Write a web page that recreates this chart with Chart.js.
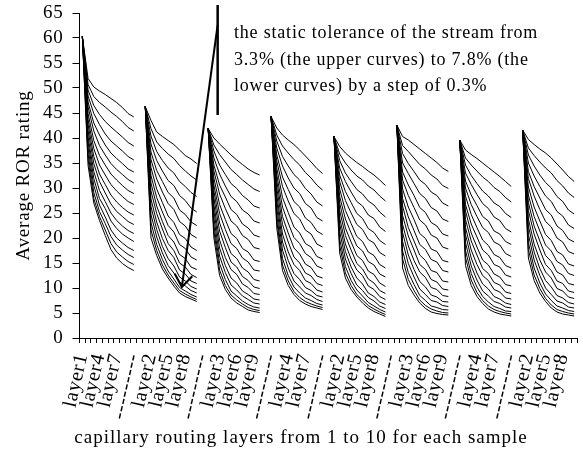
<!DOCTYPE html>
<html><head><meta charset="utf-8">
<script src="https://cdn.jsdelivr.net/npm/chart.js@4/dist/chart.umd.min.js"></script>
<style>html,body{margin:0;padding:0;background:#fff;}#wrap{width:583px;height:451px;}</style>
</head><body><div id="wrap"><canvas id="c" width="583" height="451"></canvas></div>
<script>
// ---- data ----
const layerNames = ["layer1","layer2","layer3","layer4","layer5","layer6","layer7","layer8","layer9","layer10"];
const sampleCount = 8;
// labels shown under every third category, as in the reference
const tickLabels = ["layer1","layer4","layer7","---------","layer2","layer5","layer8","---------",
  "layer3","layer6","layer9","---------","layer4","layer7","---------","layer2","layer5","layer8","---------",
  "layer3","layer6","layer9","---------","layer4","layer7","---------","layer2","layer5","layer8"];
const yTicks = [0,5,10,15,20,25,30,35,40,45,50,55,60,65];
const seriesNames = ["3.3%","3.6%","3.9%","4.2%","4.5%","4.8%","5.1%","5.4%","5.7%","6.0%","6.3%","6.6%","6.9%","7.2%","7.5%","7.8%"];

const tol3_3 = [[60.3,51.9,50.2,49.4,48.7,47.9,47.1,46.1,44.9,44.2],[46.3,43.5,41.2,40.3,39.5,38.7,37.6,36.5,35.8,34.9],[41.9,40.0,38.8,37.7,36.6,35.6,34.7,33.8,33.1,32.6],[44.3,42.0,40.6,39.6,38.7,37.6,36.4,35.2,33.9,32.9],[40.3,38.3,37.0,36.0,35.1,34.3,33.4,32.6,31.6,30.5],[42.6,40.3,39.6,38.7,37.8,36.9,36.0,35.1,34.0,33.3],[39.6,37.6,36.7,35.9,35.0,34.1,33.2,32.3,31.3,30.3],[41.6,39.7,38.7,37.8,37.0,36.0,34.8,33.6,32.3,31.3]];
const tol3_6 = [[60.3,50.7,48.3,47.1,46.2,45.2,44.3,43.3,42.1,41.4],[46.3,41.9,39.2,37.9,36.8,35.9,34.5,33.4,32.4,31.6],[41.9,38.6,36.7,35.2,33.7,32.7,31.6,30.7,29.8,29.3],[44.3,40.6,38.4,37.0,35.7,34.6,33.1,32.0,30.6,29.6],[40.3,36.8,35.0,33.6,32.4,31.6,30.4,29.6,28.4,27.4],[42.6,38.5,37.3,36.0,34.7,33.8,32.6,31.8,30.5,29.9],[39.6,36.0,34.6,33.4,32.2,31.3,30.1,29.3,28.1,27.2],[41.6,38.0,36.5,35.2,34.0,33.0,31.5,30.4,29.0,28.1]];
const tol3_9 = [[60.3,49.6,46.5,44.7,43.3,42.2,41.2,40.2,39.1,38.4],[46.3,40.4,37.3,35.5,34.0,33.0,31.3,30.3,29.1,28.3],[41.9,37.4,34.6,32.7,30.9,29.9,28.5,27.6,26.4,26.0],[44.3,39.4,36.3,34.4,32.7,31.6,29.9,28.8,27.2,26.4],[40.3,35.5,33.0,31.3,29.7,28.8,27.4,26.6,25.2,24.2],[42.6,36.9,34.9,33.3,31.6,30.7,29.2,28.5,27.0,26.4],[39.6,34.6,32.5,30.9,29.4,28.4,27.0,26.3,24.9,24.1],[41.6,36.6,34.4,32.6,31.1,30.0,28.3,27.3,25.6,24.8]];
const tol4_2 = [[60.3,48.4,44.9,42.7,40.8,39.4,38.4,37.4,36.3,35.6],[46.3,38.8,35.5,33.4,31.5,30.5,28.5,27.5,26.0,25.2],[41.9,36.0,32.8,30.4,28.3,27.3,25.6,24.8,23.4,23.0],[44.3,38.0,34.4,32.0,30.0,28.9,26.9,26.0,24.1,23.4],[40.3,34.0,31.3,29.2,27.3,26.4,24.6,23.9,22.2,21.3],[42.6,35.0,32.9,30.9,28.9,27.9,26.1,25.4,23.8,23.3],[39.6,33.0,30.7,28.7,26.9,25.9,24.2,23.5,21.9,21.2],[41.6,35.0,32.4,30.3,28.4,27.3,25.3,24.4,22.6,21.9]];
const tol4_5 = [[60.3,47.2,43.0,40.6,38.6,37.0,35.9,34.9,33.8,33.2],[46.3,37.2,33.5,31.3,29.1,28.0,25.6,24.7,23.2,22.5],[41.9,34.6,30.6,28.2,25.7,24.7,22.8,22.0,20.6,20.2],[44.3,36.6,32.2,29.7,27.3,26.2,24.0,23.1,21.4,20.7],[40.3,32.6,29.3,27.1,24.9,23.9,21.9,21.1,19.5,18.7],[42.6,33.2,30.6,28.5,26.1,25.1,23.1,22.4,20.8,20.4],[39.6,31.4,28.6,26.5,24.3,23.4,21.4,20.8,19.3,18.7],[41.6,33.3,30.3,28.0,25.7,24.6,22.4,21.5,19.8,19.2]];
const tol4_8 = [[60.3,46.2,41.4,38.5,36.6,34.9,33.7,32.7,31.7,31.0],[46.3,35.7,31.8,29.2,26.9,25.7,23.3,22.4,20.7,20.0],[41.9,33.4,28.8,25.9,23.4,22.4,20.5,19.7,18.1,17.8],[44.3,35.4,30.3,27.4,24.9,23.8,21.6,20.8,18.8,18.2],[40.3,31.3,27.5,25.0,22.7,21.7,19.7,19.0,17.1,16.4],[42.6,31.6,28.5,26.1,23.6,22.6,20.6,20.0,18.2,17.8],[39.6,30.0,26.7,24.3,22.1,21.1,19.2,18.6,16.9,16.3],[41.6,31.9,28.4,25.7,23.3,22.2,20.0,19.2,17.3,16.8]];
const tol5_1 = [[60.3,44.9,39.5,36.5,34.6,32.8,31.6,30.5,29.5,28.9],[46.3,34.1,29.8,27.1,24.4,23.1,20.7,19.9,18.2,17.5],[41.9,32.0,26.7,23.7,20.9,19.9,17.9,17.2,15.6,15.3],[44.3,34.0,28.1,25.1,22.2,21.0,18.9,18.2,16.3,15.8],[40.3,29.8,25.5,22.9,20.3,19.3,17.2,16.5,14.7,14.0],[42.6,29.8,26.2,23.7,20.9,19.9,17.8,17.3,15.5,15.2],[39.6,28.4,24.7,22.1,19.6,18.5,16.7,16.1,14.5,14.0],[41.6,30.2,26.2,23.4,20.7,19.5,17.3,16.6,14.8,14.4]];
const tol5_4 = [[60.3,43.7,37.9,34.6,32.6,30.7,29.4,28.3,27.3,26.7],[46.3,32.5,28.1,25.2,22.5,21.2,18.7,17.9,16.2,15.6],[41.9,30.6,24.9,21.7,18.9,17.9,16.0,15.2,13.6,13.4],[44.3,32.6,26.2,23.0,20.1,18.9,16.9,16.1,14.4,13.9],[40.3,28.3,23.8,21.0,18.4,17.4,15.3,14.6,12.8,12.2],[42.6,27.9,24.2,21.5,18.7,17.7,15.7,15.2,13.5,13.2],[39.6,26.7,22.8,20.2,17.6,16.6,14.7,14.2,12.6,12.2],[41.6,28.6,24.3,21.4,18.6,17.4,15.3,14.6,12.9,12.5]];
const tol5_7 = [[60.3,42.7,36.3,32.8,30.7,28.6,27.2,26.1,25.2,24.6],[46.3,31.0,26.4,23.3,20.5,19.2,16.7,15.9,14.2,13.7],[41.9,29.4,23.0,19.8,16.9,15.9,14.0,13.2,11.7,11.4],[44.3,31.4,24.3,21.0,18.0,16.8,14.8,14.1,12.4,12.0],[40.3,27.0,22.0,19.2,16.5,15.5,13.4,12.7,11.0,10.3],[42.6,26.4,22.1,19.4,16.6,15.5,13.5,13.1,11.4,11.2],[39.6,25.4,21.0,18.2,15.6,14.6,12.8,12.2,10.7,10.4],[41.6,27.1,22.4,19.4,16.5,15.3,13.2,12.6,10.9,10.6]];
const tol6_0 = [[60.3,41.5,34.9,31.3,29.0,26.8,25.3,24.3,23.3,22.7],[46.3,29.4,24.9,21.8,18.9,17.5,15.0,14.2,12.7,12.1],[41.9,28.0,21.4,18.1,15.2,14.2,12.3,11.5,10.2,9.9],[44.3,30.0,22.7,19.2,16.2,15.0,13.0,12.4,10.9,10.5],[40.3,25.5,20.5,17.6,14.9,13.8,11.8,11.0,9.5,8.9],[42.6,24.5,20.4,17.6,14.7,13.7,11.7,11.2,9.8,9.6],[39.6,23.7,19.4,16.6,13.9,12.9,11.1,10.6,9.2,8.9],[41.6,25.5,20.8,17.6,14.7,13.5,11.4,10.9,9.4,9.1]];
const tol6_3 = [[60.3,40.2,33.3,29.5,27.3,25.0,23.5,22.4,21.5,20.9],[46.3,27.8,23.2,19.9,17.5,16.1,13.6,12.8,11.4,10.9],[41.9,26.6,19.6,16.1,13.7,12.7,10.8,10.1,8.9,8.7],[44.3,28.6,20.8,17.2,14.7,13.5,11.5,10.9,9.6,9.2],[40.3,24.0,18.8,15.8,13.6,12.5,10.4,9.7,8.3,7.7],[42.6,22.7,18.4,15.5,13.2,12.1,10.1,9.7,8.5,8.3],[39.6,22.1,17.6,14.7,12.5,11.5,9.7,9.2,8.0,7.8],[41.6,23.8,18.8,15.6,13.2,12.0,9.9,9.4,8.2,7.9]];
const tol6_6 = [[60.3,39.2,31.9,27.9,25.9,23.4,21.9,20.8,20.0,19.3],[46.3,26.3,21.7,18.3,15.9,14.4,12.2,11.4,10.3,9.8],[41.9,25.4,18.0,14.5,12.0,11.0,9.4,8.7,7.8,7.6],[44.3,27.4,19.2,15.5,12.9,11.7,10.1,9.5,8.5,8.2],[40.3,22.8,17.3,14.2,12.0,10.8,9.0,8.3,7.2,6.7],[42.6,21.1,16.6,13.7,11.3,10.2,8.6,8.2,7.3,7.2],[39.6,20.7,16.0,13.0,10.8,9.8,8.3,7.8,7.0,6.7],[41.6,22.4,17.2,13.9,11.5,10.2,8.5,8.0,7.1,6.8]];
const tol6_9 = [[60.3,38.0,30.5,26.6,24.2,21.6,20.0,19.0,18.1,17.5],[46.3,24.7,20.2,17.0,14.5,13.0,11.2,10.4,9.5,9.0],[41.9,24.0,16.4,13.1,10.6,9.6,8.4,7.7,7.0,6.8],[44.3,26.0,17.6,14.0,11.4,10.2,9.0,8.5,7.7,7.3],[40.3,21.3,15.8,12.9,10.6,9.5,8.1,7.4,6.4,5.9],[42.6,19.3,14.9,12.2,9.8,8.7,7.5,7.2,6.5,6.3],[39.6,19.1,14.4,11.6,9.4,8.4,7.3,6.9,6.2,6.0],[41.6,20.7,15.6,12.5,10.0,8.7,7.4,7.0,6.2,6.0]];
const tol7_2 = [[60.3,36.8,29.1,25.3,22.9,20.3,18.6,17.6,16.7,16.1],[46.3,23.1,18.7,15.7,13.4,11.8,10.1,9.4,8.7,8.2],[41.9,22.6,14.9,11.7,9.4,8.4,7.4,6.7,6.2,6.0],[44.3,24.6,15.9,12.5,10.2,9.0,8.0,7.5,6.9,6.6],[40.3,19.8,14.3,11.5,9.6,8.4,7.1,6.4,5.7,5.2],[42.6,17.4,13.1,10.7,8.5,7.5,6.4,6.1,5.7,5.6],[39.6,17.5,12.9,10.2,8.3,7.2,6.3,5.9,5.4,5.3],[41.6,19.1,14.0,11.0,8.8,7.5,6.4,6.0,5.5,5.3]];
const tol7_5 = [[60.3,35.7,27.9,24.3,21.6,18.9,17.2,16.2,15.3,14.7],[46.3,21.6,17.5,14.6,12.6,11.0,9.5,8.8,8.2,7.7],[41.9,21.4,13.6,10.5,8.6,7.6,6.8,6.1,5.7,5.5],[44.3,23.4,14.6,11.4,9.3,8.1,7.3,6.8,6.4,6.1],[40.3,18.5,13.0,10.5,8.7,7.6,6.5,5.8,5.2,4.7],[42.6,15.8,11.7,9.5,7.6,6.5,5.8,5.4,5.1,5.0],[39.6,16.1,11.6,9.1,7.5,6.4,5.7,5.3,5.0,4.8],[41.6,17.7,12.6,9.9,7.9,6.6,5.7,5.3,5.0,4.8]];
const tol7_8 = [[60.3,34.5,27.0,23.5,20.5,17.7,16.0,14.9,14.1,13.5],[46.3,20.0,16.5,13.8,12.0,10.4,9.0,8.3,7.8,7.3],[41.9,20.0,12.5,9.7,8.0,7.0,6.3,5.6,5.3,5.1],[44.3,22.0,13.5,10.5,8.7,7.5,6.8,6.3,6.0,5.7],[40.3,17.0,12.0,9.7,8.2,7.0,6.0,5.3,4.8,4.3],[42.6,14.0,10.5,8.6,7.0,5.9,5.2,4.9,4.7,4.6],[39.6,14.5,10.5,8.3,6.9,5.8,5.2,4.8,4.6,4.4],[41.6,16.0,11.5,9.0,7.3,6.0,5.2,4.8,4.6,4.4]];

const noteLines = ["the static tolerance of the stream from","3.3% (the upper curves) to 7.8% (the","lower curves) by a step of 0.3%"];
const xTitle = "capillary routing layers from 1 to 10 for each sample";
const yTitle = "Average ROR rating";

// ---- build table: 10 layers per sample, one empty slot between samples ----
const allSeries = [tol3_3,tol3_6,tol3_9,tol4_2,tol4_5,tol4_8,tol5_1,tol5_4,tol5_7,tol6_0,tol6_3,tol6_6,tol6_9,tol7_2,tol7_5,tol7_8];
const categories = [];
for (let g = 0; g < sampleCount; g++) {
  categories.push(...layerNames);
  if (g < sampleCount - 1) categories.push("");
}
function flatten(groups) {
  const out = [];
  groups.forEach((grp, g) => { out.push(...grp); if (g < groups.length - 1) out.push(null); });
  return out;
}
const FONT = '"Liberation Serif", "Times New Roman", serif';

const spacingPlugin = { id: 'spacing', beforeDraw(chart) { chart.ctx.letterSpacing = '0.8px'; } };
const notePlugin = {
  id: 'note',
  afterDraw(chart) {
    const {ctx, scales: {x, y}} = chart;
    ctx.save();
    ctx.fillStyle = '#000';
    ctx.font = '18px ' + FONT;
    ctx.textAlign = 'left';
    ctx.textBaseline = 'alphabetic';
    noteLines.forEach((t, i) => ctx.fillText(t, 234, 38 + i * 26.7));
    // x-axis title, centred under the plot as in the reference
    ctx.font = '19px ' + FONT;
    ctx.letterSpacing = '1px';
    ctx.textAlign = 'center';
    ctx.fillText(xTitle, 301, 443);
    ctx.strokeStyle = '#000';
    const xv = x.getPixelForValue(23.66);
    ctx.lineWidth = 2.5;
    ctx.beginPath(); ctx.moveTo(xv, y.getPixelForValue(66.6)); ctx.lineTo(xv, y.getPixelForValue(44.6)); ctx.stroke();
    const sx = xv, sy = y.getPixelForValue(62.6);
    const tx = x.getPixelForValue(17.4), ty = y.getPixelForValue(10.2);
    ctx.lineWidth = 2;
    ctx.beginPath(); ctx.moveTo(sx, sy); ctx.lineTo(tx, ty); ctx.stroke();
    const ang = Math.atan2(sy - ty, sx - tx), L = 15, sp = 0.63;
    ctx.beginPath();
    ctx.moveTo(tx + L * Math.cos(ang + sp), ty + L * Math.sin(ang + sp));
    ctx.lineTo(tx, ty);
    ctx.lineTo(tx + L * Math.cos(ang - sp), ty + L * Math.sin(ang - sp));
    ctx.stroke();
    ctx.restore();
  }
};

new Chart(document.getElementById('c'), {
  type: 'line',
  data: {
    labels: categories,
    datasets: allSeries.map((s, i) => ({
      label: seriesNames[i], data: flatten(s),
      borderColor: '#000', borderWidth: 1, pointRadius: 0, pointHoverRadius: 0,
      fill: false, tension: 0, spanGaps: false
    }))
  },
  options: {
    responsive: false, animation: false, devicePixelRatio: 1,
    layout: { padding: { top: 13, right: 6, left: 0, bottom: 0 } },
    plugins: { legend: { display: false }, tooltip: { enabled: false } },
    scales: {
      x: {
        type: 'category', offset: true,
        grid: { display: true, offset: true, drawOnChartArea: false, drawTicks: true, tickLength: 5, color: '#000', lineWidth: 1 },
        border: { display: true, color: '#000', width: 1 },
        ticks: {
          autoSkip: false, minRotation: 77, maxRotation: 77, padding: 8, color: '#000',
          font: { family: FONT, size: 20 },
          callback: (v, i) => (i % 3 === 0 ? tickLabels[i / 3] : '')
        },
        title: { display: false, text: xTitle },
        afterFit: (s) => { s.height = 113; s.paddingLeft = 0; s.paddingRight = 0; }
      },
      y: {
        min: 0, max: 65,
        afterBuildTicks: (s) => { s.ticks = yTicks.map(v => ({ value: v })); },
        grid: { display: true, drawOnChartArea: false, drawTicks: true, tickLength: 7, color: '#000', lineWidth: 1 },
        border: { display: true, color: '#000', width: 1 },
        ticks: { autoSkip: false, color: '#000', padding: 9, font: { family: FONT, size: 19 } },
        title: { display: true, text: yTitle, color: '#000', font: { family: FONT, size: 19 }, padding: { top: 13, bottom: 0 } },
        afterFit: (s) => { s.width = 79.5; s.paddingTop = 0; s.paddingBottom = 0; }
      }
    }
  },
  plugins: [spacingPlugin, notePlugin]
});
</script>
</body></html>
